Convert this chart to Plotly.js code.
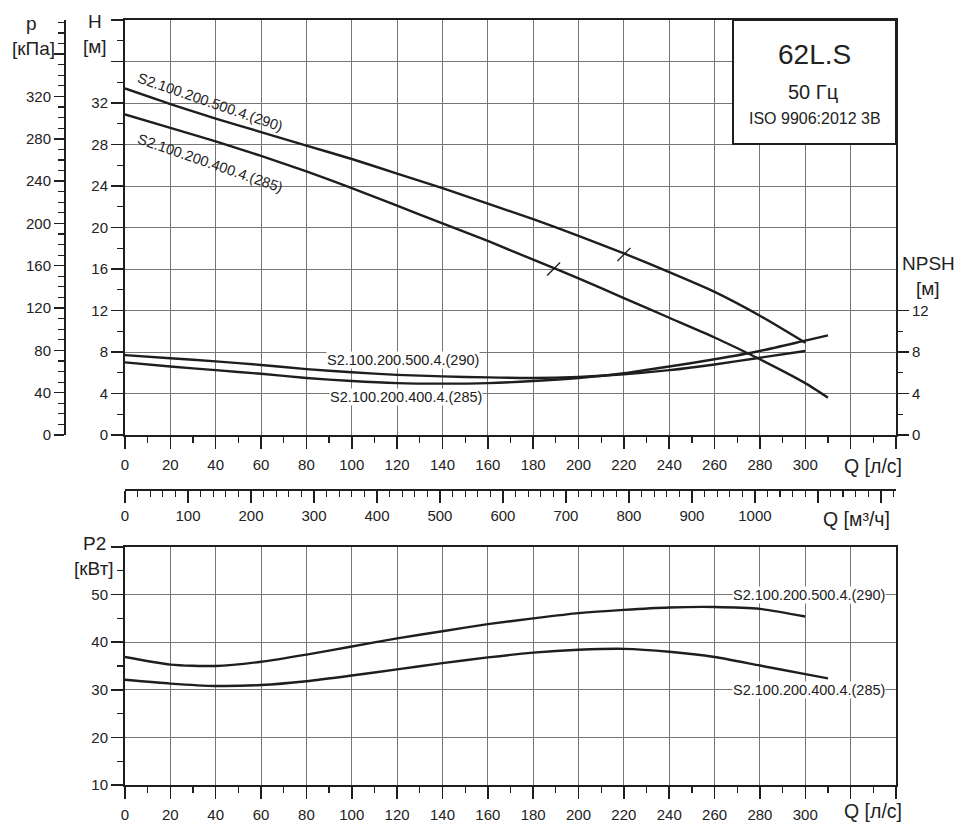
<!DOCTYPE html>
<html><head><meta charset="utf-8">
<script src="https://cdn.plot.ly/plotly-3.0.1.min.js"></script>
<style>html,body{margin:0;padding:0;background:#fff}</style>
</head><body><div id="chart" style="width:956px;height:822px"></div>
<script>
// ---- data ----
const qA = [0,20,40,60,80,100,120,140,160,180,200,220,240,260,280,300];          // S2.100.200.500.4.(290)
const qB = [0,20,40,60,80,100,120,140,160,180,200,220,240,260,280,300,310];      // S2.100.200.400.4.(285)
const headA = [33.4,31.9,30.5,29.2,27.9,26.6,25.2,23.8,22.3,20.8,19.2,17.5,15.7,13.8,11.5,8.9];
const headB = [30.9,29.6,28.3,26.9,25.4,23.8,22.1,20.4,18.7,16.9,15.1,13.2,11.3,9.4,7.3,5.0,3.6];
const npshA = [7.7,7.4,7.1,6.75,6.35,6.05,5.8,5.65,5.55,5.5,5.6,5.85,6.25,6.8,7.45,8.1];
const npshB = [7.0,6.6,6.25,5.9,5.5,5.2,5.0,4.95,5.0,5.2,5.5,5.95,6.6,7.3,8.1,9.1,9.6];
const powerA = [36.9,35.3,35.0,35.9,37.4,39.1,40.8,42.3,43.8,45.0,46.1,46.8,47.3,47.4,47.0,45.4];
const powerB = [32.1,31.3,30.8,31.0,31.8,33.0,34.3,35.6,36.8,37.8,38.4,38.6,38.0,36.9,35.1,33.3,32.4];
const bepQ = [220, 189];
const bepH = [17.4, 16.0];
const nameA = 'S2.100.200.500.4.(290)';
const nameB = 'S2.100.200.400.4.(285)';

const qTicks = [0,20,40,60,80,100,120,140,160,180,200,220,240,260,280,300,320,340];
const qTickText = ['0','20','40','60','80','100','120','140','160','180','200','220','240','260','280','300','',''];
const m3Ticks = [0,100,200,300,400,500,600,700,800,900,1000,1100,1200];
const m3TickText = ['0','100','200','300','400','500','600','700','800','900','1000','',''];
const hTicks = [0,4,8,12,16,20,24,28,32,36,40];
const hTickText = ['0','4','8','12','16','20','24','28','32','',''];
const pTicks = [0,40,80,120,160,200,240,280,320,360];
const pTickText = ['0','40','80','120','160','200','240','280','320',''];
const npshTicks = [0,4,8,12];
const npshMinor = [2,6,10];
const p2Ticks = [10,20,30,40,50,60];
const p2TickText = ['10','20','30','40','50',''];

// ---- layout helpers ----
const W = 956, Hh = 822;
const px = v => v / W;
const py = v => 1 - v / Hh;
const INK = '#1e1e1e';
const GRID = '#767676';
const FONT = 'Liberation Sans, Arial, sans-serif';

const curve = (x, y, xa, ya) => ({x, y, xaxis: xa, yaxis: ya, type: 'scatter', mode: 'lines',
  line: {color: INK, width: 2.4, shape: 'spline', smoothing: 0.6}, hoverinfo: 'skip', showlegend: false});

const traces = [
  curve(qA, headA, 'x', 'y'),
  curve(qB, headB, 'x', 'y'),
  curve(qA, npshA, 'x', 'y4'),
  curve(qB, npshB, 'x', 'y4'),
  curve(qA, powerA, 'x2', 'y2'),
  curve(qB, powerB, 'x2', 'y2'),
  {x: bepQ, y: bepH, xaxis: 'x', yaxis: 'y', type: 'scatter', mode: 'markers',
   marker: {symbol: 'line-ne', size: 13, color: INK, line: {color: INK, width: 1.3}}, hoverinfo: 'skip', showlegend: false},
  {x: [], y: [], xaxis: 'x3', yaxis: 'y', type: 'scatter', showlegend: false, hoverinfo: 'skip'},
  {x: [], y: [], xaxis: 'x', yaxis: 'y3', type: 'scatter', showlegend: false, hoverinfo: 'skip'}
];

const tickBase = {ticks: 'outside', tickcolor: INK, tickwidth: 1.5, tickfont: {family: FONT, size: 15, color: '#222'},
  showline: true, linecolor: INK, linewidth: 2, zeroline: false, fixedrange: true};
const topDom = [py(435), py(20)];
const botDom = [py(785), py(547)];
const xDom = [px(125), px(896)];

const layout = {
  width: W, height: Hh, autosize: false,
  margin: {l: 0, r: 0, t: 0, b: 0, pad: 0},
  paper_bgcolor: '#fff', plot_bgcolor: '#fff',
  font: {family: FONT, color: '#222'},
  showlegend: false,
  xaxis: Object.assign({}, tickBase, {domain: xDom, anchor: 'y', range: [0, 340], tickmode: 'array', tickvals: qTicks, ticktext: qTickText,
    ticklen: 12, ticklabelstandoff: 3, mirror: true, showgrid: true, gridcolor: GRID, gridwidth: 1,
    minor: {tickmode: 'linear', tick0: 0, dtick: 10, ticks: 'outside', ticklen: 6, tickcolor: INK, tickwidth: 1.2, showgrid: false}}),
  xaxis2: Object.assign({}, tickBase, {domain: xDom, anchor: 'y2', range: [0, 340], tickmode: 'array', tickvals: qTicks, ticktext: qTickText,
    ticklen: 12, ticklabelstandoff: 3, mirror: true, showgrid: true, gridcolor: GRID, gridwidth: 1,
    minor: {tickmode: 'linear', tick0: 0, dtick: 10, ticks: 'outside', ticklen: 6, tickcolor: INK, tickwidth: 1.2, showgrid: false}}),
  xaxis3: Object.assign({}, tickBase, {overlaying: 'x', anchor: 'free', position: py(489.5), side: 'bottom', range: [0, 340 * 3.6],
    tickmode: 'array', tickvals: m3Ticks, ticktext: m3TickText, ticklen: 12, showgrid: false,
    minor: {tickmode: 'linear', tick0: 0, dtick: 20, ticks: 'outside', ticklen: 6, tickcolor: INK, tickwidth: 1.2, showgrid: false}}),
  yaxis: Object.assign({}, tickBase, {domain: topDom, anchor: 'x', range: [0, 40], tickmode: 'array', tickvals: hTicks, ticktext: hTickText,
    ticklen: 12, mirror: true, showgrid: true, gridcolor: GRID, gridwidth: 1,
    minor: {tickmode: 'linear', tick0: 0, dtick: 2, ticks: 'outside', ticklen: 6, tickcolor: INK, tickwidth: 1.2, showgrid: false}}),
  yaxis3: Object.assign({}, tickBase, {overlaying: 'y', anchor: 'free', position: px(65), side: 'left', range: [0, 40 * 9.807],
    tickmode: 'array', tickvals: pTicks, ticktext: pTickText, ticklen: 10, showgrid: false,
    minor: {tickmode: 'linear', tick0: 0, dtick: 10, ticks: 'outside', ticklen: 6, tickcolor: INK, tickwidth: 1.2, showgrid: false}}),
  yaxis4: Object.assign({}, tickBase, {overlaying: 'y', anchor: 'x', side: 'right', range: [0, 40], showline: false,
    tickmode: 'array', tickvals: npshTicks, ticklen: 12, showgrid: false,
    minor: {tickmode: 'array', tickvals: npshMinor, ticks: 'outside', ticklen: 6, tickcolor: INK, tickwidth: 1.2, showgrid: false}}),
  yaxis2: Object.assign({}, tickBase, {domain: botDom, anchor: 'x2', range: [10, 60], tickmode: 'array', tickvals: p2Ticks, ticktext: p2TickText,
    ticklen: 12, mirror: true, showgrid: true, gridcolor: GRID, gridwidth: 1,
    minor: {tickmode: 'linear', tick0: 0, dtick: 5, ticks: 'outside', ticklen: 6, tickcolor: INK, tickwidth: 1.2, showgrid: false}}),
  shapes: [
    {type: 'rect', xref: 'paper', yref: 'paper', x0: px(733), x1: px(896), y0: py(144), y1: py(20),
     fillcolor: '#fff', line: {color: INK, width: 2}, layer: 'above'}
  ],
  annotations: []
};

const ann = (text, x, y, size, extra) => Object.assign({text, xref: 'paper', yref: 'paper', x: px(x), y: py(y),
  xanchor: 'center', yanchor: 'middle', showarrow: false, font: {family: FONT, size, color: '#222'}}, extra || {});

layout.annotations.push(
  ann('p', 32, 24, 19), ann('[кПа]', 33.5, 48, 19),
  ann('H', 95, 22, 19), ann('[м]', 94.5, 47, 19),
  ann('NPSH', 928, 263, 19), ann('[м]', 927.5, 288, 19),
  ann('Q [л/с]', 873, 466, 19.5), ann('Q [м³/ч]', 856, 519, 19.5),
  ann('P2', 94.5, 543, 19), ann('[кВт]', 94, 568, 19),
  ann('Q [л/с]', 873, 811, 19.5),
  ann('62L.S', 814.5, 55, 28), ann('50 Гц', 813, 92, 20), ann('ISO 9906:2012 3B', 815, 119, 16),
  ann(nameA, 210, 102, 14.5, {textangle: 19}),
  ann(nameB, 210, 163, 14.5, {textangle: 19}),
  ann(nameA, 403, 360, 14.5, {bgcolor: '#fff', borderpad: 0}),
  ann(nameB, 405.5, 397, 14.5, {bgcolor: '#fff', borderpad: 0}),
  ann(nameA, 809, 595, 14.5, {bgcolor: '#fff', borderpad: 0}),
  ann(nameB, 809, 690, 14.5, {bgcolor: '#fff', borderpad: 0})
);

Plotly.newPlot('chart', traces, layout, {staticPlot: true, displayModeBar: false});
</script></body></html>
